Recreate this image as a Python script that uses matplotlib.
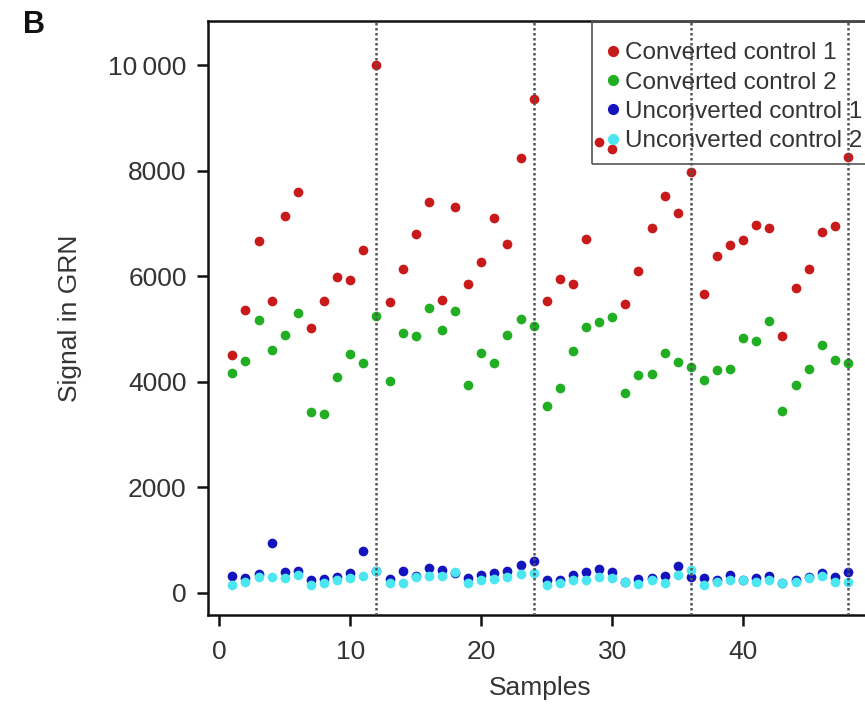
import numpy as np
import matplotlib
matplotlib.use("Agg")
import matplotlib.pyplot as plt
from matplotlib.patches import Rectangle
from matplotlib.ticker import FuncFormatter

# Data: signal for each of 48 samples
samples = list(range(1, 49))
converted_1 = [4500, 5365, 6660, 5540, 7140, 7590, 5025, 5540, 5980, 5930, 6500, 10000,
               5520, 6140, 6800, 7400, 5550, 7320, 5860, 6280, 7110, 6620, 8250, 9360,
               5530, 5950, 5860, 6700, 8545, 8410, 5475, 6100, 6925, 7520, 7200, 7970,
               5665, 6390, 6590, 6690, 6975, 6925, 4865, 5770, 6140, 6840, 6950, 8270]
converted_2 = [4165, 4390, 5180, 4610, 4895, 5300, 3430, 3385, 4090, 4530, 4350, 5255,
               4010, 4930, 4870, 5390, 4980, 5340, 3930, 4550, 4350, 4890, 5190, 5050,
               3540, 3880, 4575, 5030, 5140, 5220, 3780, 4130, 4140, 4550, 4370, 4275,
               4025, 4215, 4240, 4825, 4780, 5160, 3435, 3930, 4235, 4690, 4420, 4360]
unconverted_1 = [310, 277, 359, 940, 384, 416, 246, 258, 296, 372, 781, 400,
                 258, 403, 309, 466, 435, 380, 277, 340, 372, 416, 517, 605,
                 246, 233, 327, 384, 448, 384, 200, 258, 277, 309, 498, 296,
                 277, 246, 327, 246, 277, 321, 183, 246, 296, 372, 296, 384]
unconverted_2 = [151, 195, 296, 296, 277, 340, 139, 183, 246, 277, 321, 403,
                 183, 183, 296, 309, 321, 391, 183, 233, 258, 296, 359, 372,
                 151, 183, 246, 233, 296, 277, 195, 170, 233, 183, 340, 435,
                 151, 195, 233, 246, 208, 233, 183, 195, 277, 321, 208, 208]
series_labels = ["Converted control 1", "Converted control 2",
                 "Unconverted control 1", "Unconverted control 2"]
series_colours = ["#c81a1a", "#22ae22", "#1414bf", "#4ce6f0"]
chip_breaks = [12, 24, 36, 48]

plt.rcParams["font.family"] = ["Liberation Sans", "DejaVu Sans"]

fig = plt.figure(figsize=(8.65, 7.09), dpi=100)
# axes run past the right edge, as in the cropped reference
ax = fig.add_axes([0.2399, 0.1326, 0.7692, 0.8382])

all_series = [converted_1, converted_2, unconverted_1, unconverted_2]
for vals, lab, col in zip(all_series, series_labels, series_colours):
    ax.plot(samples, vals, "o", color=col, markersize=7, markeredgewidth=0,
            label=lab, zorder=3)

# separators between chips
for xb in chip_breaks:
    ax.axvline(xb, color="#555555", linestyle=(0, (1, 1)), linewidth=1.8, zorder=4)

ax.set_xlim(-0.9, 49.9)
ax.set_ylim(-426, 10849)
ax.set_xticks([0, 10, 20, 30, 40])
ax.set_yticks([0, 2000, 4000, 6000, 8000, 10000])
ax.yaxis.set_major_formatter(FuncFormatter(
    lambda v, p: "10\u2009000" if v >= 10000 else "%d" % v))

for sp in ax.spines.values():
    sp.set_linewidth(1.8)
    sp.set_color("#111111")
ax.tick_params(direction="out", length=8, width=1.8, labelsize=19,
               labelcolor="#333333", color="#111111")
ax.tick_params(axis="x", pad=10)
ax.tick_params(axis="y", pad=7)

ax.set_xlabel("Samples", fontsize=19, color="#333333")
ax.set_ylabel("Signal in GRN", fontsize=19, color="#333333")
ax.xaxis.set_label_coords(0.5, -0.1026)
ax.yaxis.set_label_coords(-0.1886, 0.5)

# legend without its own frame; box drawn separately so it sits on the top spine
leg = ax.legend(loc="upper left", bbox_to_anchor=(0.6999, 0.9405),
                bbox_transform=fig.transFigure, borderaxespad=0, borderpad=0,
                fontsize=17.5, handlelength=0.6, handletextpad=0.2,
                labelspacing=0.3, frameon=False, markerscale=1.15)
for t in leg.get_texts():
    t.set_color("#333333")
fig.patches.append(Rectangle((0.684, 0.7683), 0.33, 0.2025,
                             transform=fig.transFigure, fill=False,
                             edgecolor="#555555", linewidth=1.2, zorder=5))

fig.text(0.027, 0.9535, "B", fontsize=22, fontweight="bold", color="#111111",
         ha="left", va="baseline")

fig.savefig("out.png", dpi=100)
plt.close(fig)
